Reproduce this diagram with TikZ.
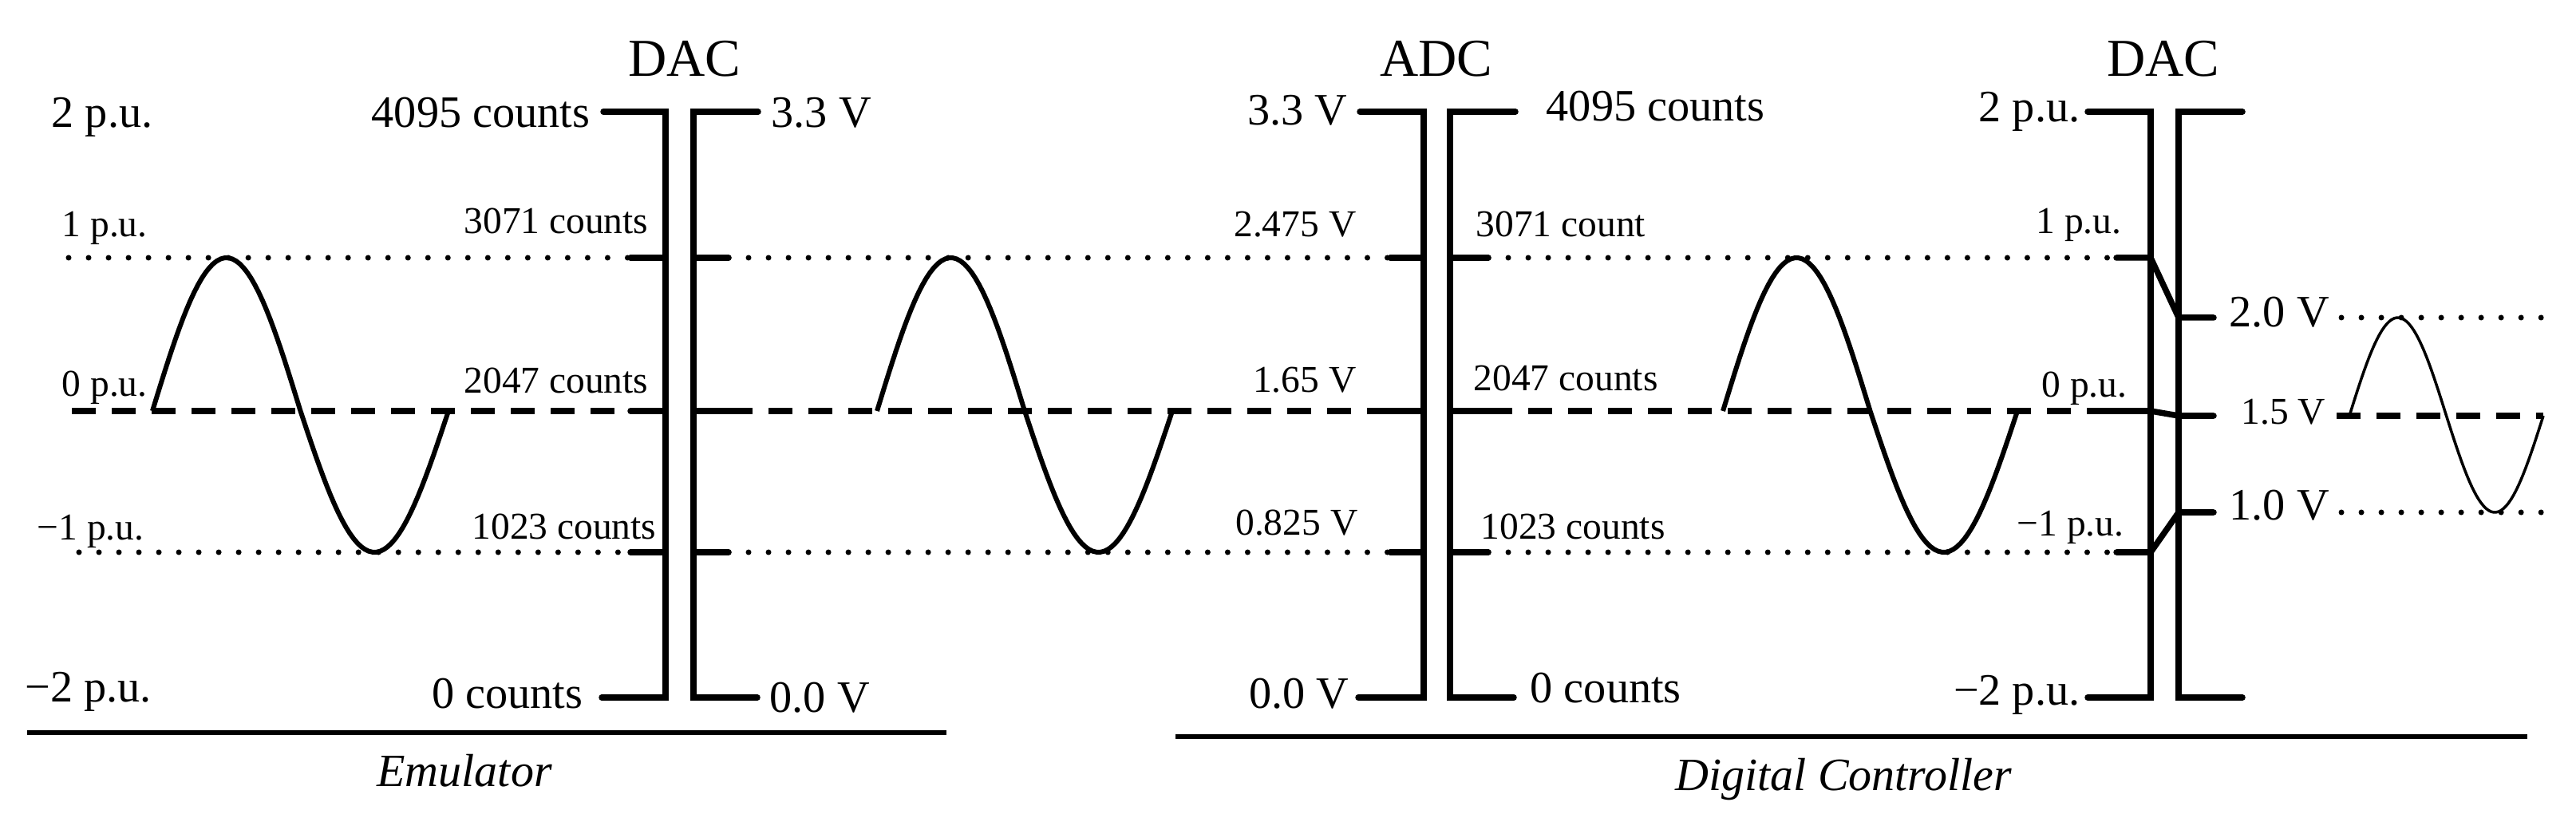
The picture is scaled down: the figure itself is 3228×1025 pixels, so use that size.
\documentclass[tikz,border=0pt]{standalone}
\usepackage{fontspec}
\setmainfont{Liberation Serif}

\tikzset{
	biglab/.style = {font=\fontsize{16}{19}\selectfont, inner sep=0pt},
	smalllab/.style = {font=\fontsize{13.5}{16}\selectfont, inner sep=0pt},
	headlab/.style = {font=\fontsize{19}{22}\selectfont, inner sep=0pt, anchor=base},
	partlab/.style = {font=\itshape\fontsize{16.5}{20}\selectfont, inner sep=0pt, anchor=base},
	railbar/.style = {line width=0.075cm, line cap=round},
	dotline/.style = {line width=0.07cm, line cap=round, dash pattern=on 0pt off 0.25cm},
	dashline/.style = {line width=0.075cm, dash pattern=on 0.3cm off 0.2cm},
	wave/.style = {line width=0.06cm},
	thinwave/.style = {line width=0.035cm},
	rule/.style = {line width=0.065cm}
}

\begin{document}
\begin{tikzpicture}[x=0.01cm, y=-0.01cm]
	\useasboundingbox (0,0) rectangle (3228,1025);

	% level lines
	\draw [dotline] (86,323) -- (790,323);
	\draw [dotline] (913,323) -- (1742,323);
	\draw [dotline] (1865,323) -- (2652,323);
	\draw [dashline] (90,515) -- (790,515);
	\draw [dashline] (913,515) -- (1742,515);
	\draw [dashline] (1865,515) -- (2630,515);
	\draw [dotline] (99,692) -- (790,692);
	\draw [dotline] (913,692) -- (1742,692);
	\draw [dotline] (1865,692) -- (2652,692);
	\draw [dotline] (2934,398) -- (3187,398);
	\draw [dashline] (2928,521) -- (3187,521);
	\draw [dotline] (2934,642) -- (3187,642);

	% DAC (emulator)
	\draw [railbar] (756,140) -- (834,140) -- (834,874) -- (754,874);
	\draw [railbar] (950,140) -- (869,140) -- (869,874) -- (949,874);
	\draw [railbar] (790,323) -- (834,323);
	\draw [railbar] (790,515) -- (834,515);
	\draw [railbar] (790,692) -- (834,692);
	\draw [railbar] (869,323) -- (913,323);
	\draw [railbar] (869,515) -- (913,515);
	\draw [railbar] (869,692) -- (913,692);

	% ADC
	\draw [railbar] (1704,140) -- (1784,140) -- (1784,874) -- (1702,874);
	\draw [railbar] (1899,140) -- (1817,140) -- (1817,874) -- (1897,874);
	\draw [railbar] (1742,323) -- (1784,323);
	\draw [railbar] (1742,515) -- (1784,515);
	\draw [railbar] (1742,692) -- (1784,692);
	\draw [railbar] (1817,323) -- (1865,323);
	\draw [railbar] (1817,515) -- (1865,515);
	\draw [railbar] (1817,692) -- (1865,692);

	% DAC (controller)
	\draw [railbar] (2616,140) -- (2695,140) -- (2695,874) -- (2616,874);
	\draw [railbar] (2810,140) -- (2730,140) -- (2730,874) -- (2810,874);
	\draw [railbar] (2652,323) -- (2695,323) -- (2730,398) -- (2774,398);
	\draw [railbar] (2630,515) -- (2695,515) -- (2730,521) -- (2774,521);
	\draw [railbar] (2652,692) -- (2695,692) -- (2730,642) -- (2774,642);

	% sine waves
	\draw [wave] plot [domain=0:180, samples=40] ({191+\x/360*371}, {515-192*sin(\x)})
		-- plot [domain=180:360, samples=40] ({191+\x/360*371}, {515-177*sin(\x)});
	\draw [wave] plot [domain=0:180, samples=40] ({1099+\x/360*370}, {515-192*sin(\x)})
		-- plot [domain=180:360, samples=40] ({1099+\x/360*370}, {515-177*sin(\x)});
	\draw [wave] plot [domain=0:180, samples=40] ({2159+\x/360*369}, {515-192*sin(\x)})
		-- plot [domain=180:360, samples=40] ({2159+\x/360*369}, {515-177*sin(\x)});
	\draw [thinwave] plot [domain=0:180, samples=40] ({2944+\x/360*243}, {521-123*sin(\x)})
		-- plot [domain=180:360, samples=40] ({2944+\x/360*243}, {521-121*sin(\x)});

	% headings
	\node [headlab] (dacA) at (858,96) {DAC};
	\node [headlab] (adc) at (1800,96) {ADC};
	\node [headlab] (dacB) at (2711,96) {DAC};

	% emulator labels
	\node [biglab, anchor=base west] (puTwoA) at (64,160) {2 p.u.};
	\node [smalllab, anchor=base west] (puOneA) at (77,297) {1 p.u.};
	\node [smalllab, anchor=base west] (puZeroA) at (77,497) {0 p.u.};
	\node [smalllab, anchor=base west] (puMOneA) at (46,676) {−1 p.u.};
	\node [biglab, anchor=base west] (puMTwoA) at (31,879) {−2 p.u.};
	\node [biglab, anchor=base east] (cntTopA) at (740,160) {4095 counts};
	\node [smalllab, anchor=base east] (cntUpA) at (813,293) {3071 counts};
	\node [smalllab, anchor=base east] (cntMidA) at (813,493) {2047 counts};
	\node [smalllab, anchor=base east] (cntLowA) at (823,675) {1023 counts};
	\node [biglab, anchor=base east] (cntBotA) at (731,887) {0 counts};
	\node [biglab, anchor=base west] (vTopA) at (966,160) {3.3 V};
	\node [biglab, anchor=base west] (vBotA) at (964,892) {0.0 V};

	% ADC labels
	\node [biglab, anchor=base east] (vTopB) at (1689,157) {3.3 V};
	\node [smalllab, anchor=base east] (vUpB) at (1700,297) {2.475 V};
	\node [smalllab, anchor=base east] (vMidB) at (1700,492) {1.65 V};
	\node [smalllab, anchor=base east] (vLowB) at (1702,670) {0.825 V};
	\node [biglab, anchor=base east] (vBotB) at (1691,887) {0.0 V};
	\node [biglab, anchor=base west] (cntTopB) at (1937,152) {4095 counts};
	\node [smalllab, anchor=base west] (cntUpB) at (1849,297) {3071 count};
	\node [smalllab, anchor=base west] (cntMidB) at (1846,490) {2047 counts};
	\node [smalllab, anchor=base west] (cntLowB) at (1855,675) {1023 counts};
	\node [biglab, anchor=base west] (cntBotB) at (1917,880) {0 counts};

	% controller DAC labels
	\node [biglab, anchor=base east] (puTwoC) at (2607,153) {2 p.u.};
	\node [smalllab, anchor=base east] (puOneC) at (2659,293) {1 p.u.};
	\node [smalllab, anchor=base east] (puZeroC) at (2666,498) {0 p.u.};
	\node [smalllab, anchor=base east] (puMOneC) at (2662,672) {−1 p.u.};
	\node [biglab, anchor=base east] (puMTwoC) at (2607,883) {−2 p.u.};
	\node [biglab, anchor=base west] (vUpC) at (2793,410) {2.0 V};
	\node [smalllab, anchor=base west] (vMidC) at (2808,532) {1.5 V};
	\node [biglab, anchor=base west] (vLowC) at (2793,652) {1.0 V};

	% parts
	\draw [rule] (34,918) -- (1186,918);
	\draw [rule] (1473,923) -- (3167,923);
	\node [partlab] (emu) at (582,985) {Emulator};
	\node [partlab] (ctrl) at (2310,990) {Digital Controller};
\end{tikzpicture}
\end{document}
